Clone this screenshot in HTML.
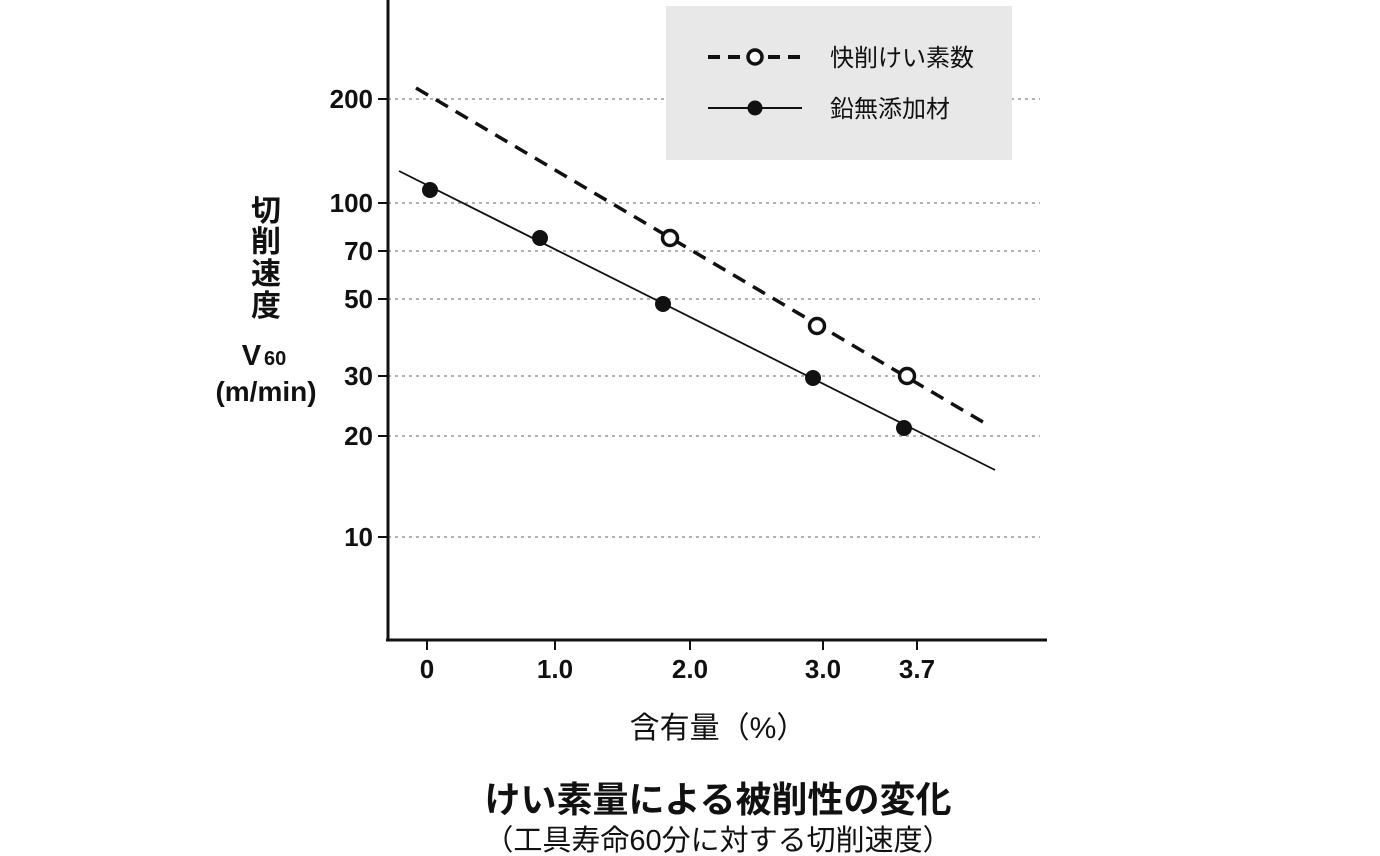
<!DOCTYPE html>
<html><head><meta charset="utf-8"><style>
html,body{margin:0;padding:0;background:#fff;}
svg{display:block;}
text{font-family:"Liberation Sans","Noto Sans CJK JP",sans-serif;fill:#111;}
</style></head><body>
<svg width="1380" height="856" viewBox="0 0 1380 856" xmlns="http://www.w3.org/2000/svg">
<g stroke="#999" stroke-width="1.5" stroke-dasharray="3,4">
<line x1="388" y1="99" x2="1040" y2="99"/>
<line x1="388" y1="203" x2="1040" y2="203"/>
<line x1="388" y1="251" x2="1040" y2="251"/>
<line x1="388" y1="299" x2="1040" y2="299"/>
<line x1="388" y1="376" x2="1040" y2="376"/>
<line x1="388" y1="436" x2="1040" y2="436"/>
<line x1="388" y1="537" x2="1040" y2="537"/>
</g>
<rect x="666" y="6" width="346" height="154" fill="#e8e8e8"/>
<line x1="708" y1="57" x2="802" y2="57" stroke="#111" stroke-width="4" stroke-dasharray="12,8"/>
<circle cx="755" cy="57" r="7" fill="#fff" stroke="#111" stroke-width="3.5"/>
<text x="830" y="66" font-size="24">快削けい素数</text>
<line x1="708" y1="108" x2="802" y2="108" stroke="#111" stroke-width="2"/>
<circle cx="755" cy="108" r="7.5" fill="#111"/>
<text x="830" y="117" font-size="24">鉛無添加材</text>
<g stroke="#111" stroke-width="3" fill="none">
<line x1="388" y1="0" x2="388" y2="641"/>
<line x1="386" y1="640" x2="1047" y2="640"/>
</g>
<g stroke="#111" stroke-width="2">
<line x1="378" y1="99" x2="388" y2="99"/>
<line x1="378" y1="203" x2="388" y2="203"/>
<line x1="378" y1="251" x2="388" y2="251"/>
<line x1="378" y1="299" x2="388" y2="299"/>
<line x1="378" y1="376" x2="388" y2="376"/>
<line x1="378" y1="436" x2="388" y2="436"/>
<line x1="378" y1="537" x2="388" y2="537"/>
<line x1="427" y1="640" x2="427" y2="650"/>
<line x1="555" y1="640" x2="555" y2="650"/>
<line x1="690" y1="640" x2="690" y2="650"/>
<line x1="823" y1="640" x2="823" y2="650"/>
<line x1="917" y1="640" x2="917" y2="650"/>
</g>
<g font-size="26" text-anchor="end" font-weight="bold">
<text x="373" y="108">200</text>
<text x="373" y="212">100</text>
<text x="373" y="260">70</text>
<text x="373" y="308">50</text>
<text x="373" y="385">30</text>
<text x="373" y="445">20</text>
<text x="373" y="546">10</text>
</g>
<g font-size="26" text-anchor="middle" font-weight="bold">
<text x="427" y="678">0</text>
<text x="555" y="678">1.0</text>
<text x="690" y="678">2.0</text>
<text x="823" y="678">3.0</text>
<text x="917" y="678">3.7</text>
</g>
<g font-size="30" text-anchor="middle" font-weight="bold">
<text x="266" y="221">切</text>
<text x="266" y="252">削</text>
<text x="266" y="284">速</text>
<text x="266" y="316">度</text>
<text x="264" y="365" font-size="29">V<tspan font-size="20" dx="3">60</tspan></text>
<text x="266" y="401" font-size="28">(m/min)</text>
</g>
<line x1="416" y1="88" x2="988" y2="425" stroke="#111" stroke-width="3.5" stroke-dasharray="14,9"/>
<line x1="399" y1="171" x2="995" y2="470" stroke="#111" stroke-width="1.8"/>
<g fill="#fff" stroke="#111" stroke-width="3.5">
<circle cx="670" cy="238" r="7.5"/>
<circle cx="817" cy="326" r="7.5"/>
<circle cx="907" cy="376" r="7.5"/>
</g>
<g fill="#111">
<circle cx="430" cy="190" r="8"/>
<circle cx="540" cy="238" r="8"/>
<circle cx="663" cy="304" r="8"/>
<circle cx="813" cy="378" r="8"/>
<circle cx="904" cy="428" r="8"/>
</g>
<text x="718" y="738" font-size="30" text-anchor="middle">含有量（%）</text>
<text x="718" y="812" font-size="36" text-anchor="middle" font-weight="bold">けい素量による被削性の変化</text>
<text x="718" y="850" font-size="29" text-anchor="middle">（工具寿命60分に対する切削速度）</text>
</svg>
</body></html>
